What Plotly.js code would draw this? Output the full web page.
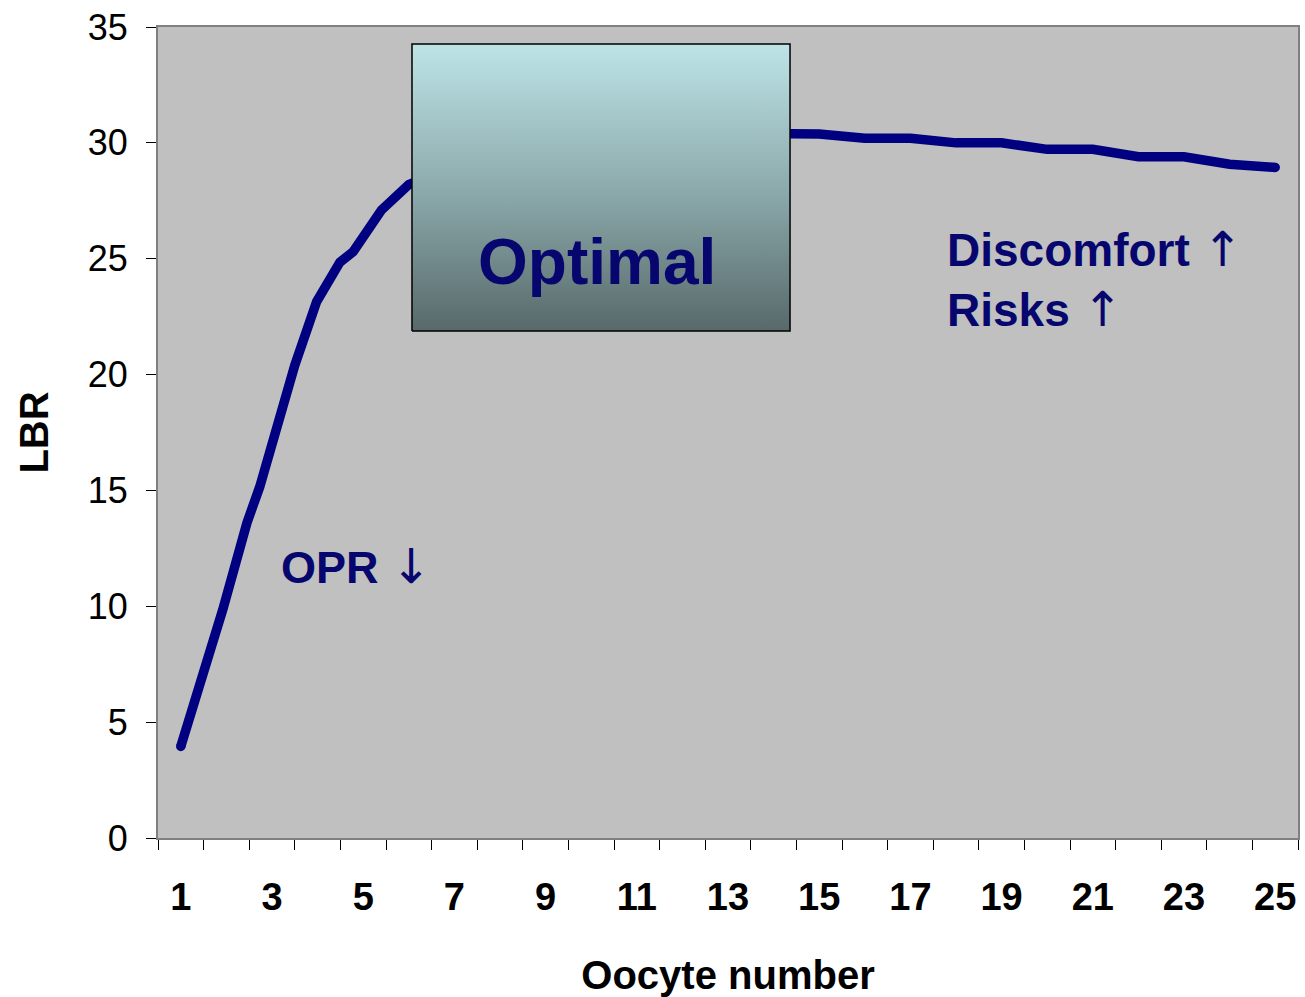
<!DOCTYPE html>
<html>
<head>
<meta charset="utf-8">
<script src="https://cdn.plot.ly/plotly-3.0.1.min.js"></script>
<style>html,body{margin:0;padding:0;background:#fff;}#chart{width:1305px;height:997px;}</style>
</head>
<body>
<div id="chart"></div>
<script>
// Oocyte number (x) and live birth rate LBR (y)
const oocyteNumber = [1, 1.92, 2.45, 2.73, 3.5, 3.98, 4.49, 4.78, 5.4, 6, 7, 8, 9, 10, 11, 12, 13, 14, 15, 16, 17, 18, 19, 20, 21, 22, 23, 24, 25];
const lbr = [3.95, 9.85, 13.6, 15.15, 20.4, 23.15, 24.85, 25.3, 27.1, 28.2, 29.0, 29.6, 30.0, 30.3, 30.45, 30.45, 30.4, 30.38, 30.38, 30.2, 30.2, 30.0, 30.0, 29.72, 29.72, 29.4, 29.4, 29.08, 28.94];
const xTickVals = [1, 3, 5, 7, 9, 11, 13, 15, 17, 19, 21, 23, 25];
const xTickText = ['1', '3', '5', '7', '9', '11', '13', '15', '17', '19', '21', '23', '25'];
const yTickVals = [0, 5, 10, 15, 20, 25, 30, 35];

// "Optimal" zone box extents (in axis units)
const optimalX = [6.07, 14.36];
const optimalY = [21.88, 34.27];

const boundaries = [];
for (let i = 0; i <= 25; i++) boundaries.push(i + 0.5);

const navy = '#000080';
const textNavy = '#06066E';
const FONT = '"Liberation Sans", Arial, Helvetica, sans-serif';
const ARROW = (ch) => '<span style="font-size:48px;font-family:DejaVu Sans">' + ch + '</span>';

const traces = [
  {
    type: 'scatter', mode: 'lines',
    x: oocyteNumber, y: lbr,
    line: {color: navy, width: 9.5, shape: 'linear'},
    hoverinfo: 'skip', showlegend: false
  },
  {
    type: 'scatter', mode: 'markers',
    x: [oocyteNumber[0], oocyteNumber[oocyteNumber.length - 1]],
    y: [lbr[0], lbr[lbr.length - 1]],
    marker: {color: navy, size: 9.5, line: {width: 0}},
    hoverinfo: 'skip', showlegend: false
  },
  {
    type: 'scatter', mode: 'lines',
    x: [optimalX[0], optimalX[1], optimalX[1], optimalX[0], optimalX[0]],
    y: [optimalY[0], optimalY[0], optimalY[1], optimalY[1], optimalY[0]],
    fill: 'toself',
    fillcolor: '#8FAEB0',
    fillgradient: {type: 'vertical', colorscale: [[0, '#58696A'], [0.5, '#8DABAD'], [1, '#BEE4E7']]},
    line: {color: '#000000', width: 1.5},
    hoverinfo: 'skip', showlegend: false
  }
];

const layout = {
  width: 1305, height: 997,
  margin: {l: 158, r: 7, t: 27, b: 159},
  paper_bgcolor: '#ffffff',
  plot_bgcolor: '#C0C0C0',
  font: {family: FONT, color: '#000'},
  showlegend: false,
  xaxis: {
    range: [0.5, 25.5],
    tickmode: 'array', tickvals: xTickVals, ticktext: xTickText,
    ticks: '', ticklabelstandoff: 24,
    tickfont: {family: FONT, size: 38, color: '#000', weight: 'bold'},
    showgrid: false, zeroline: false,
    showline: true, linecolor: '#808080', linewidth: 2, mirror: true,
    minor: {tickmode: 'array', tickvals: boundaries, ticks: 'outside', ticklen: 10, tickcolor: '#000', tickwidth: 1, showgrid: false},
    title: {text: '<b>Oocyte number</b>', font: {family: FONT, size: 40, color: '#000'}, standoff: 54}
  },
  yaxis: {
    range: [0, 35],
    tickmode: 'array', tickvals: yTickVals,
    ticks: 'outside', ticklen: 10, tickcolor: '#000', tickwidth: 1,
    ticklabelstandoff: 11,
    tickfont: {family: FONT, size: 36, color: '#000'},
    showgrid: false, zeroline: false,
    showline: true, linecolor: '#808080', linewidth: 2, mirror: true,
    title: {text: '<b>LBR</b>', font: {family: FONT, size: 40, color: '#000'}, standoff: 27}
  },
  annotations: [
    {x: 10.12, y: 24.86, xref: 'x', yref: 'y', text: '<b>Optimal</b>', showarrow: false,
     font: {family: FONT, size: 64, color: textNavy}, xanchor: 'center', yanchor: 'middle'},
    {x: 17.76, y: 24.12, xref: 'x', yref: 'y', text: '<b>Discomfort</b> ' + ARROW('\u2191') + '<br><b>Risks</b> ' + ARROW('\u2191'), showarrow: false,
     font: {family: FONT, size: 46, color: textNavy}, xanchor: 'left', yanchor: 'middle', align: 'left'},
    {x: 3.16, y: 11.72, xref: 'x', yref: 'y', text: '<b>OPR</b> ' + ARROW('\u2193'), showarrow: false,
     font: {family: FONT, size: 45, color: textNavy}, xanchor: 'left', yanchor: 'middle', align: 'left'}
  ]
};

Plotly.newPlot('chart', traces, layout, {displayModeBar: false, staticPlot: true});
</script>
</body>
</html>
